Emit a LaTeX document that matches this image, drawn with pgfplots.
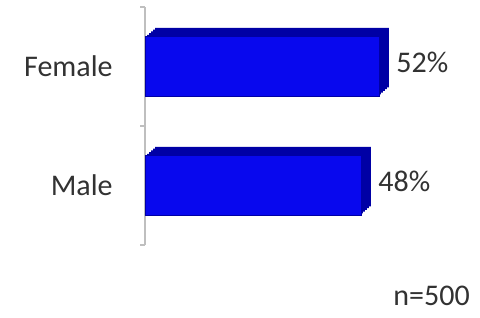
\documentclass[border=0pt]{standalone}
\usepackage{fontspec}
\setmainfont{Carlito}
\usepackage{pgfplots}
\pgfplotsset{compat=1.18}
\definecolor{barfront}{RGB}{8,8,238}
\definecolor{barback}{RGB}{0,0,165}
\definecolor{axgray}{RGB}{191,191,191}
\definecolor{txt}{RGB}{50,50,50}
\begin{document}
\fontsize{15pt}{18pt}\selectfont
\begin{tikzpicture}
\path[use as bounding box] (0,0) rectangle (240pt,-158.5pt);
\begin{axis}[
  at={(72.5pt,-122.5pt)}, anchor=south west,
  width=157.5pt, height=119pt, scale only axis,
  xmin=0, xmax=70, ymin=-0.5, ymax=1.5,
  axis x line=none,
  axis y line*=left,
  y axis line style={axgray, line width=0.75pt},
  ytick={0,1}, yticklabels={Male,Female},
  major tick length=0pt,
  tick align=outside,
  extra y ticks={-0.5,0.5,1.5},
  extra y tick labels={},
  extra y tick style={major tick length=2.5pt, tick style={axgray, line width=0.75pt}},
  yticklabel style={text=txt, xshift=-16pt, inner sep=0pt},
  /pgf/number format/assume math mode=true,
  clip=false,
]
\addplot[xbar, bar width=0.5, bar shift=0pt, fill=barback, draw=none, xshift=1pt, yshift=0.9pt] coordinates {(52,1) (48,0)};
\addplot[xbar, bar width=0.5, bar shift=0pt, fill=barback, draw=none, xshift=2pt, yshift=1.8pt] coordinates {(52,1) (48,0)};
\addplot[xbar, bar width=0.5, bar shift=0pt, fill=barback, draw=none, xshift=3pt, yshift=2.7pt] coordinates {(52,1) (48,0)};
\addplot[xbar, bar width=0.5, bar shift=0pt, fill=barback, draw=none, xshift=4pt, yshift=3.6pt] coordinates {(52,1) (48,0)};
\addplot[xbar, bar width=0.5, bar shift=0pt, fill=barback, draw=none, xshift=5pt, yshift=4.5pt] coordinates {(52,1) (48,0)};
\addplot[xbar, bar width=0.5, bar shift=0pt, fill=barfront, draw=barback, line width=0.4pt,
  nodes near coords={\pgfmathprintnumber{\pgfplotspointmeta}\%},
  nodes near coords style={anchor=west, inner sep=0pt, xshift=8.5pt, yshift=2pt, text=txt}]
  coordinates {(52,1) (48,0)};
\end{axis}
\node[anchor=base west, text=txt, inner sep=0pt] at (196.5pt,-152.5pt) {n=500};
\end{tikzpicture}
\end{document}
